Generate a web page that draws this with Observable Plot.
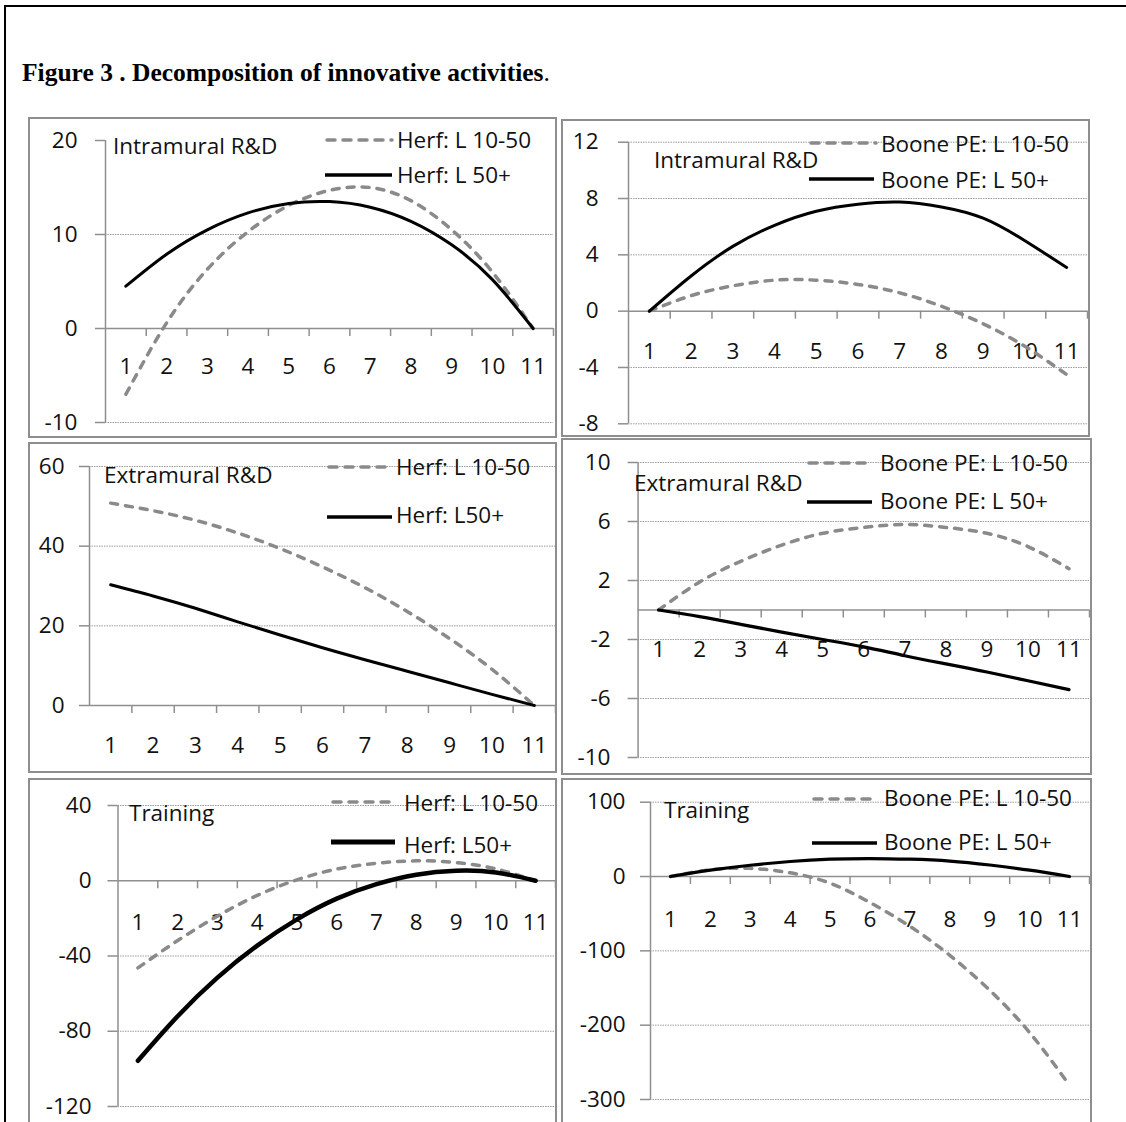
<!DOCTYPE html>
<html>
<head>
<meta charset="utf-8">
<script src="https://cdn.jsdelivr.net/npm/d3@7"></script>
<script src="https://cdn.jsdelivr.net/npm/@observablehq/plot@0.6"></script>
<style>
  body { margin: 0; background: #fff; }
  #page { position: relative; width: 1126px; height: 1122px; overflow: hidden; background: #fff; font-family: "Open Sans", sans-serif; }
  .txt { position: absolute; white-space: nowrap; line-height: 1; font-size: 22.5px; color: #111; transform: translateY(-50%); }
  .box { position: absolute; box-sizing: border-box; border: 2px solid #8e8e8e; pointer-events: none; }
</style>
</head>
<body>
<div id="page"></div>
<script>
// ---------------- DATA ----------------
const cats = [1, 2, 3, 4, 5, 6, 7, 8, 9, 10, 11];
const xTickLabels = ["1", "2", "3", "4", "5", "6", "7", "8", "9", "10", "11"];

// Intramural R&D
const intraHerfL10_50 = [-7.0, 0.6, 6.3, 10.3, 13.1, 14.7, 15.0, 13.6, 10.5, 6.0, 0];
const intraHerfL50 = [4.5, 7.9, 10.5, 12.3, 13.3, 13.5, 12.9, 11.4, 8.9, 5.2, 0];
const intraBooneL10_50 = [0, 1.1, 1.8, 2.2, 2.2, 1.9, 1.3, 0.35, -0.9, -2.5, -4.5];
const intraBooneL50 = [0, 2.5, 4.6, 6.1, 7.1, 7.6, 7.75, 7.4, 6.6, 5.0, 3.1];

// Extramural R&D
const extraHerfL10_50 = [50.8, 48.9, 46.5, 43.3, 39.4, 34.8, 29.6, 23.6, 16.8, 9.1, 0];
const extraHerfL50 = [30.3, 27.5, 24.4, 21.0, 17.7, 14.5, 11.5, 8.6, 5.7, 2.8, 0];
const extraBooneL10_50 = [0, 1.9, 3.3, 4.4, 5.2, 5.6, 5.8, 5.6, 5.2, 4.3, 2.8];
const extraBooneL50 = [0, -0.45, -0.97, -1.5, -2.0, -2.5, -3.1, -3.65, -4.2, -4.8, -5.4];

// Training
const trainHerfL10_50 = [-46.3, -31.8, -18.8, -7.8, 0.5, 6.2, 9.3, 10.6, 9.7, 6.3, 0];
const trainHerfL50 = [-95.7, -72, -51.5, -34.5, -20.5, -9.5, -1.8, 3.2, 5.3, 4.4, 0];
const trainBooneL10_50 = [0, 9, 11, 5, -9, -35, -67, -106, -153, -210, -281];
const trainBooneL50 = [0, 8.5, 15.2, 20.2, 23.3, 24.2, 23.3, 20.8, 15.5, 8.5, 0];

// Y tick labels
const intraHerfTicks = [-10, 0, 10, 20];
const intraBooneTicks = [-8, -4, 0, 4, 8, 12];
const extraHerfTicks = [0, 20, 40, 60];
const extraBooneTicks = [-10, -6, -2, 2, 6, 10];
const trainHerfTicks = [-120, -80, -40, 0, 40];
const trainBooneTicks = [-300, -200, -100, 0, 100];

// Texts
const figureTitle = "Figure 3 . Decomposition of innovative activities";
const panelTitles = ["Intramural R&D", "Extramural R&D", "Training"];
const herfLegendA = ["Herf: L 10-50", "Herf: L 50+"];
const herfLegendB = ["Herf: L 10-50", "Herf: L50+"];
const booneLegend = ["Boone PE: L 10-50", "Boone PE: L 50+"];

// ---------------- LAYOUT ----------------
const xBoundaries = cats.map(c => c + 0.5);
const axisColor = "#8f8f8f";
const gridColor = "#9c9c9c";
const dashColor = "#8a8a8a";
const fs = 22.5;

const page = document.getElementById("page");

// outer frame (left + top)
const frame = document.createElement("div");
frame.style.cssText = "position:absolute;left:4px;top:5px;width:1200px;height:1200px;border-left:2px solid #000;border-top:2px solid #000;";
page.appendChild(frame);

const title = document.createElement("div");
title.style.cssText = "position:absolute;left:22px;top:60px;white-space:nowrap;font-family:'Liberation Serif','Times New Roman',serif;font-size:25.5px;line-height:1;color:#000;";
const tb = document.createElement("b"); tb.textContent = figureTitle;
title.appendChild(tb);
title.appendChild(document.createTextNode("."));
page.appendChild(title);

const panels = [
  { box: [28, 117, 557, 438], ax: [105, 553], ay: [140, 422], domain: [-10, 20], ticks: intraHerfTicks, grid: [-10, 10],
    yr: 77, labelDy: 38, s10: intraHerfL10_50, s50: intraHerfL50, title: panelTitles[0], tpos: [113, 146],
    legend: herfLegendA, leg: [[325, 394, 140, 397, 140], [325, 392, 175, 397, 175]], solidW: 3 },
  { box: [561, 119, 1090, 437], ax: [628, 1087], ay: [141.7, 423.3], domain: [-8, 12], ticks: intraBooneTicks, grid: [-8, -4, 4, 8, 12],
    yr: 598, labelDy: 40.7, s10: intraBooneL10_50, s50: intraBooneL50, title: panelTitles[0], tpos: [654, 160],
    legend: booneLegend, leg: [[809, 878, 143, 881, 144], [809, 874, 179, 881, 180]], solidW: 3 },
  { box: [28, 442, 557, 773], ax: [89, 555], ay: [466, 705], domain: [0, 60], ticks: extraHerfTicks, grid: [20, 40, 60],
    yr: 64, labelDy: 40, s10: extraHerfL10_50, s50: extraHerfL50, title: panelTitles[1], tpos: [104, 475],
    legend: herfLegendB, leg: [[327, 394, 467, 396, 467], [327, 392, 516.5, 396, 515]], solidW: 3 },
  { box: [561, 438, 1092, 775], ax: [637.6, 1089], ay: [462, 757], domain: [-10, 10], ticks: extraBooneTicks, grid: [-10, -6, -2, 2, 6, 10],
    yr: 610, labelDy: 40, s10: extraBooneL10_50, s50: extraBooneL50, title: panelTitles[1], tpos: [634, 483],
    legend: booneLegend, leg: [[807, 874, 463, 880, 463], [807, 872, 501.5, 880, 501]], solidW: 3.2 },
  { box: [28, 778, 557, 1130], ax: [117.5, 555], ay: [805, 1106], domain: [-120, 40], ticks: trainHerfTicks, grid: [-120, -80, -40, 40],
    yr: 91, labelDy: 41.6, s10: trainHerfL10_50, s50: trainHerfL50, title: panelTitles[2], tpos: [129, 813],
    legend: herfLegendB, leg: [[331, 397, 801.5, 404, 803], [331, 395, 841.5, 404, 845]], solidW: 4.5 },
  { box: [561, 778, 1092, 1130], ax: [650, 1089], ay: [801.7, 1099], domain: [-300, 100], ticks: trainBooneTicks, grid: [-300, -200, -100, 100],
    yr: 625, labelDy: 43.6, s10: trainBooneL10_50, s50: trainBooneL50, title: panelTitles[2], tpos: [664, 810],
    legend: booneLegend, leg: [[812, 879, 799, 884, 798], [812, 877, 843, 884, 842]], solidW: 3.2 }
];

function addText(str, x, y) {
  const d = document.createElement("div");
  d.className = "txt";
  d.style.left = x + "px";
  d.style.top = y + "px";
  d.textContent = str;
  page.appendChild(d);
}

function addSample(x1, x2, y, dashed, w) {
  const svg = d3.select(page).append("svg")
    .style("position", "absolute")
    .style("left", (x1 - 5) + "px").style("top", (y - 6) + "px")
    .attr("width", x2 - x1 + 10).attr("height", 12);
  svg.append("line")
    .attr("x1", 5 + (dashed ? 2 : 0)).attr("x2", x2 - x1 + 5 - (dashed ? 2 : 0))
    .attr("y1", 6).attr("y2", 6)
    .attr("stroke", dashed ? dashColor : "#000")
    .attr("stroke-width", dashed ? 3.5 : w + 0.5)
    .attr("stroke-linecap", dashed ? "round" : "butt")
    .attr("stroke-dasharray", dashed ? "8,8" : null);
}

for (const p of panels) {
  const [bx0, by0, bx1, by1] = p.box;
  const W = bx1 - bx0, H = by1 - by0;
  const rows10 = cats.map((c, i) => ({ cat: c, v: p.s10[i] }));
  const rows50 = cats.map((c, i) => ({ cat: c, v: p.s50[i] }));
  const tickSize = 10;
  const chart = Plot.plot({
    width: W,
    height: H,
    marginLeft: p.ax[0] - bx0,
    marginRight: bx1 - p.ax[1],
    marginTop: p.ay[0] - by0,
    marginBottom: by1 - p.ay[1],
    x: { type: "linear", domain: [0.5, 11.5], axis: null },
    y: { type: "linear", domain: p.domain, axis: null },
    style: { fontFamily: "'Open Sans', sans-serif", fontSize: fs + "px", color: "#111", background: "transparent", overflow: "visible" },
    marks: [
      Plot.ruleY(p.grid, { stroke: gridColor, strokeWidth: 1, strokeDasharray: "1.5,1" }),
      Plot.ruleY([0], { stroke: axisColor, strokeWidth: 1.5 }),
      Plot.ruleX([0.5], { stroke: axisColor, strokeWidth: 1.5 }),
      Plot.ruleX(xBoundaries, { y1: 0, y2: 0, insetBottom: -8, stroke: axisColor, strokeWidth: 1.5 }),
      Plot.axisY({
        ticks: p.ticks, tickSize, tickPadding: p.ax[0] - tickSize - p.yr, label: null,
        stroke: axisColor, strokeWidth: 1.5, fill: "#111", fontSize: fs,
        tickFormat: d => String(d)
      }),
      Plot.text(cats, { x: d => d, y: () => 0, text: (d, i) => xTickLabels[i], dy: p.labelDy, lineAnchor: "middle", fill: "#111", fontSize: fs }),
      Plot.line(rows10, { x: "cat", y: "v", stroke: dashColor, strokeWidth: 3.5, strokeDasharray: "7,8", strokeLinecap: "round", curve: "natural" }),
      Plot.line(rows50, { x: "cat", y: "v", stroke: "#000", strokeWidth: p.solidW, strokeLinecap: "round", curve: "natural" })
    ]
  });
  chart.style.position = "absolute";
  chart.style.left = bx0 + "px";
  chart.style.top = by0 + "px";
  chart.style.maxWidth = "none";
  page.appendChild(chart);

  const box = document.createElement("div");
  box.className = "box";
  box.style.left = bx0 + "px";
  box.style.top = by0 + "px";
  box.style.width = W + "px";
  box.style.height = H + "px";
  page.appendChild(box);

  addText(p.title, p.tpos[0], p.tpos[1]);
  p.leg.forEach((l, k) => {
    addSample(l[0], l[1], l[2], k === 0, p.solidW);
    addText(p.legend[k], l[3], l[4]);
  });
}
</script>
</body>
</html>
